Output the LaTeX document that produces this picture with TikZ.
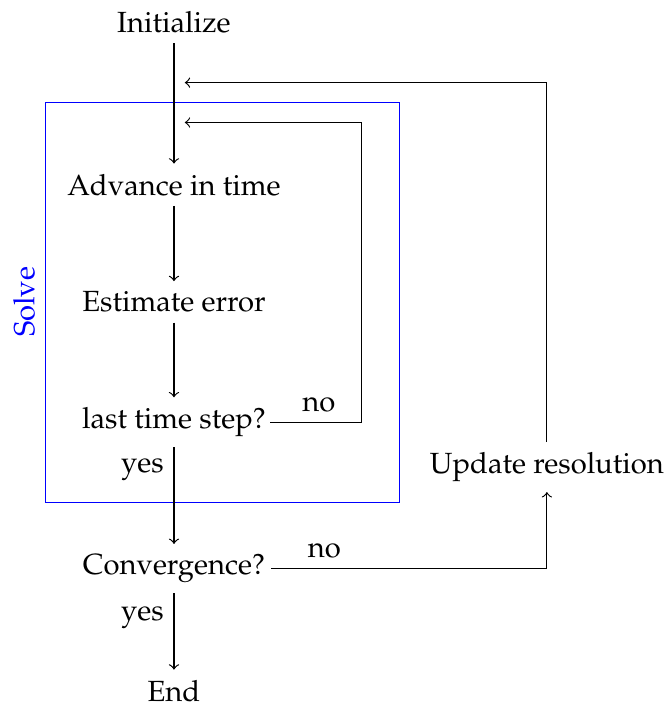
\documentclass[tikz,border=0pt]{standalone}
\usepackage[T1]{fontenc}
\usepackage{mathpazo}
\usetikzlibrary{positioning}

\begin{document}
\begin{tikzpicture}[node distance=1.5cm, on grid, >=to]
  \useasboundingbox (-2.095,0.265) rectangle (5.947,-8.2);

  % Define nodes
  \node at (0,0)                                     (init) {Initialize};
  \node[below=1.96cm of init]                        (adv)  {Advance in time};
  \node[below=1.41cm of adv]                         (est)  {Estimate error};
  \node[below=1.45cm of est]                         (last) {last time step?};
  \node[below=1.76cm of last]                        (conv) {Convergence?};
  \node[below=1.47cm of conv]                        (end)  {End};
  \node[right=4.49cm of last, yshift=-0.54cm]        (upd)  {Update resolution};

  % Helper points
  \coordinate[above right=0.75cm and 2.26cm of adv]  (innerturn);
  \coordinate[above right=0.75cm and 0.13cm of adv]  (innerend);
  \coordinate[above right=1.23cm and 0.13cm of adv]  (outerend);
  \coordinate[above left=0.99cm and 1.55cm of adv]   (boxnw);
  \coordinate[below right=3.83cm and 2.72cm of adv]  (boxse);

  % Solve box
  \draw[blue] (boxnw) rectangle (boxse);
  \node[blue, rotate=90, anchor=south] at (boxnw |- est) (solve) {Solve};

  % Connect the nodes
  \draw[->] (init) -- (adv);
  \draw[->] (adv)  -- (est);
  \draw[->] (est)  -- (last);
  \draw[->] (last) -- node[left, pos=0.23] {yes} (conv);
  \draw[->] (conv) -- node[left, pos=0.32] {yes} (end);
  \draw[->, shorten <=-2pt] (last.east) -| node[above, pos=0.25] {no} (innerturn) -- (innerend);
  \draw[->, shorten <=-1.5pt] (conv.east) -| node[above, pos=0.09] {no} (upd);
  \draw[->] (upd) |- (outerend);
\end{tikzpicture}
\end{document}
